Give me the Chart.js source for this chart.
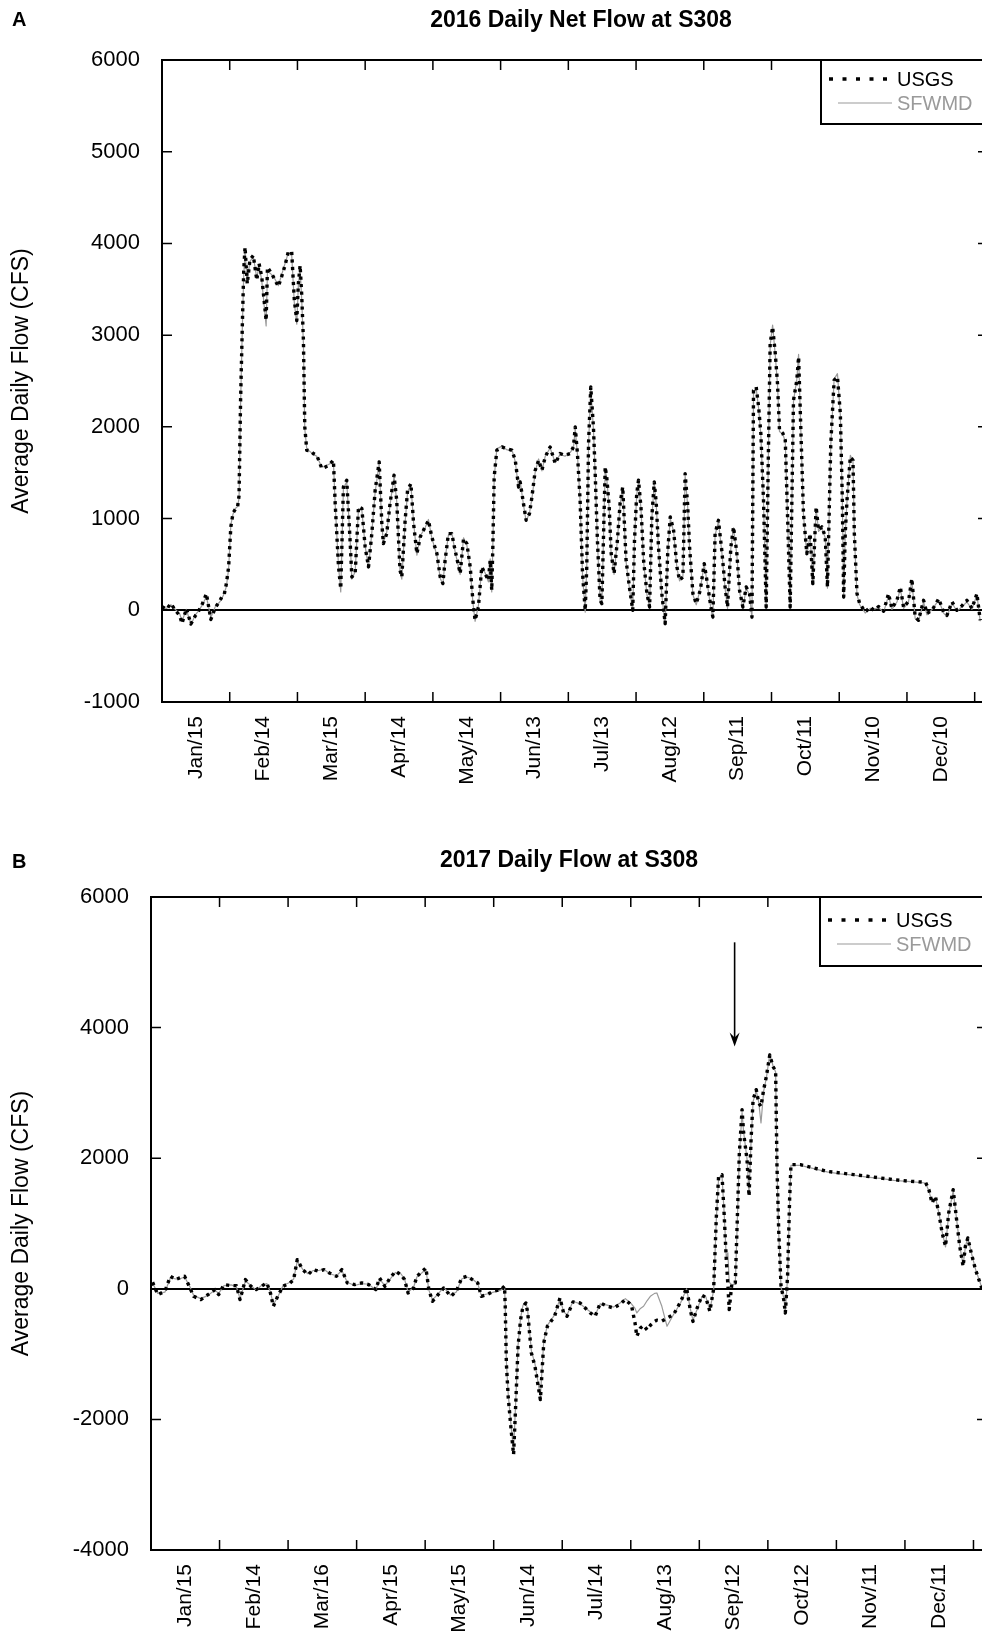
<!DOCTYPE html>
<html>
<head>
<meta charset="utf-8">
<script src="https://cdn.jsdelivr.net/npm/chart.js@4.4.0/dist/chart.umd.min.js"></script>
<style>
  html, body { margin: 0; padding: 0; background: #fff; width: 982px; height: 1642px; overflow: hidden; }
  canvas { position: absolute; left: 0; }
  .tag { position: absolute; z-index: 2; font: bold 20px "Liberation Sans", Arial, sans-serif; line-height: 20px; }
  .title { position: absolute; z-index: 2; font: bold 23px "Liberation Sans", Arial, sans-serif; line-height: 23px;
           transform: translateX(-50%); white-space: nowrap; }
</style>
</head>
<body>
<canvas id="chartA" style="top:0" width="1000" height="820"></canvas>
<canvas id="chartB" style="top:820px" width="1000" height="822"></canvas>
<div class="tag" style="left:12px;top:9px">A</div>
<div class="title" style="left:581px;top:8px">2016 Daily Net Flow at S308</div>
<div class="tag" style="left:12px;top:851px">B</div>
<div class="title" style="left:569px;top:848px">2017 Daily Flow at S308</div>
<script>
// month tick labels
const monthsA = ['Jan/15', 'Feb/14', 'Mar/15', 'Apr/14', 'May/14', 'Jun/13', 'Jul/13', 'Aug/12', 'Sep/11', 'Oct/11', 'Nov/10', 'Dec/10'];
const monthsB = ['Jan/15', 'Feb/14', 'Mar/16', 'Apr/15', 'May/15', 'Jun/14', 'Jul/14', 'Aug/13', 'Sep/12', 'Oct/12', 'Nov/11', 'Dec/11'];

// 2016, day of year
const daysA = [
  0, 2, 4, 6, 8, 9, 11, 13, 15, 16,
  18, 20, 22, 24, 26, 27, 28, 29, 30, 31,
  32, 33, 34, 34.7, 35.4, 36.2, 36.8, 37.4, 38.4, 39.6,
  41.1, 42.7, 43.7, 44.9, 46.9, 47.5, 49.4, 50.9, 52.4, 53.9,
  55.4, 56.9, 58.4, 59.6, 60.7, 61.4, 62.2, 62.9, 63.7, 64.3,
  65.2, 66.7, 68.2, 69.7, 72, 73.4, 75, 77.2, 78, 79.5,
  80.5, 81.7, 83.2, 84.7, 85.5, 87, 88.5, 90, 91.5, 93,
  94.5, 96, 97.8, 99, 99.7, 101.2, 102.7, 104.5, 105.7, 107.2,
  108, 109.5, 110.6, 112.1, 113.3, 114.8, 116.3, 118.5, 120, 121.5,
  123.8, 125.3, 126.5, 127.5, 129, 130.5, 132, 134.3, 135.8, 137.3,
  138.8, 140, 141, 142.5, 144, 145.5, 147, 147.8, 148.5, 149,
  149.6, 150.8, 153.1, 155.3, 157.6, 159.1, 160.6, 161.3, 162.8, 164,
  165.5, 166.6, 168.1, 169.6, 171.1, 172.6, 174.8, 177.1, 179.3, 181.5,
  183.8, 185.3, 186.1, 187.1, 188.3, 189.4, 190.6, 191.3, 192.1, 193.1,
  194.3, 195.1, 196.1, 197.3, 198.1, 199.6, 200.3, 201.4, 202.3, 203.6,
  205.1, 206.3, 207.5, 209, 210.5, 212, 212.8, 213.8, 214.6, 215.7,
  216.9, 218.4, 219.6, 220.6, 221.7, 222.6, 223.6, 225.1, 226.6, 227.8,
  228.9, 230.4, 231.9, 233.1, 234.6, 235.6, 236.7, 237.6, 239.1, 240.6,
  242.4, 244.2, 245.4, 247.2, 248.1, 249.1, 250.6, 252.1, 253.6, 254.7,
  256.2, 257.4, 258.9, 260.1, 261.6, 263.1, 264.6, 265.7, 266.4, 267.6,
  268.7, 269.7, 270.9, 272.1, 273, 273.9, 275, 276.2, 277.2, 278.1,
  279.6, 280.7, 281.7, 282.9, 284.4, 285.9, 286.7, 287.4, 288.9, 290.4,
  291.9, 293.1, 294.6, 295.7, 297.2, 298.7, 299.7, 301.2, 302.7, 304.2,
  305.5, 306.4, 307, 307.7, 308.5, 310, 311.2, 311.8, 313, 314.2,
  316.7, 319, 320.5, 322.7, 325, 327.2, 328.7, 331, 332.5, 334,
  336.2, 337.7, 339.2, 340.7, 343, 344.5, 346.8, 349.8, 352, 353.5,
  355.8, 358, 360.3, 362.5, 364.8, 367, 368.5
];
const usgsA = [
  40, 10, 73, 0, -60, -145, 20, -150, -60, -30,
  60, 182, -100, 30, 100, 150, 170, 290, 470, 910,
  1060, 1100, 1120, 1250, 2300, 3130, 3700, 3960, 3560, 3820,
  3870, 3600, 3780, 3640, 3160, 3740, 3670, 3600, 3530, 3640,
  3760, 3910, 3910, 3380, 3160, 3560, 3760, 3450, 2940, 2000,
  1745, 1740, 1708, 1690, 1545, 1560, 1581, 1636, 1163, 473,
  236, 1345, 1418, 763, 363, 400, 1127, 1109, 690, 473,
  836, 1309, 1618, 945, 727, 836, 1163, 1472, 1200, 436,
  363, 981, 1309, 1381, 945, 618, 800, 909, 981, 800,
  618, 363, 291, 545, 836, 836, 654, 400, 781, 727,
  473, 109, -109, 36, 473, 400, 327, 545, 218, 690,
  1454, 1745, 1781, 1760, 1745, 1636, 1345, 1400, 1163, 981,
  1054, 1236, 1527, 1636, 1527, 1672, 1781, 1600, 1709, 1690,
  1709, 1781, 2000, 1709, 1200, 400, 0, 473, 1818, 2435,
  2000, 1490, 763, 109, 73, 1563, 1450, 1127, 618, 400,
  763, 1163, 1345, 545, 254, 0, 763, 1272, 1418, 1127,
  545, 182, 36, 1018, 1400, 1163, 690, 182, -145, 654,
  1018, 872, 473, 327, 363, 1490, 1163, 690, 182, 73,
  218, 509, 327, 36, -73, 836, 981, 654, 254, 36,
  690, 909, 618, 218, 36, 254, 182, -73, 2399, 2435,
  2217, 1927, 1200, 36, 1563, 2908, 3090, 2799, 2472, 1963,
  1930, 1854, 1054, 36, 2290, 2508, 2763, 2217, 1054, 618,
  836, 291, 1127, 872, 909, 800, 254, 1818, 2508, 2545,
  2145, 1200, 145, 836, 1200, 1672, 1636, 836, 182, 73,
  -18, 36, 0, 40, -10, 182, 20, 109, 254, 30,
  100, 345, -73, -109, 109, -36, 0, 127, -20, -55,
  91, 0, 50, 109, 20, 182, -109
];
const sfwmdA = [
  30, 20, 60, 10, -40, -120, 10, -160, -50, -20,
  50, 150, -80, 40, 90, 130, 180, 260, 450, 930,
  1050, 1110, 1130, 1220, 2250, 3100, 3650, 3900, 3600, 3800,
  3860, 3620, 3760, 3600, 3100, 3700, 3660, 3610, 3540, 3660,
  3780, 3900, 3880, 3350, 3120, 3540, 3730, 3400, 2900, 1980,
  1760, 1730, 1700, 1680, 1560, 1570, 1590, 1620, 1150, 480,
  200, 1330, 1400, 780, 340, 420, 1110, 1090, 700, 460,
  850, 1290, 1600, 930, 740, 850, 1150, 1460, 1190, 420,
  340, 960, 1290, 1370, 960, 600, 810, 900, 990, 790,
  600, 350, 280, 560, 820, 850, 640, 390, 790, 710,
  460, 90, -120, 50, 460, 410, 310, 560, 200, 700,
  1440, 1760, 1790, 1750, 1750, 1620, 1330, 1410, 1150, 970,
  1060, 1220, 1510, 1650, 1520, 1680, 1770, 1610, 1700, 1680,
  1720, 1770, 1980, 1700, 1190, 380, -20, 480, 1800, 2420,
  1980, 1480, 750, 100, 60, 1540, 1440, 1110, 600, 390,
  770, 1150, 1330, 530, 240, -10, 770, 1260, 1400, 1110,
  530, 170, 20, 1000, 1390, 1150, 680, 170, -160, 640,
  1000, 860, 460, 320, 370, 1470, 1150, 680, 170, 60,
  230, 500, 320, 20, -90, 820, 970, 640, 240, 20,
  680, 900, 600, 200, 20, 240, 170, -90, 2380, 2420,
  2200, 1910, 1180, 20, 1540, 2890, 3110, 2780, 2460, 1950,
  1920, 1840, 1040, 20, 2280, 2520, 2790, 2200, 1040, 600,
  820, 280, 1110, 860, 900, 790, 240, 1800, 2520, 2580,
  2130, 1180, 130, 820, 1190, 1690, 1620, 820, 170, 60,
  -30, 20, 10, 30, -20, 160, 10, 90, 240, 20,
  90, 330, -90, -120, 90, -50, 10, 110, -30, -70,
  80, -10, 40, 90, 10, 170, -120
];

// 2017, day of year
const daysB = [
  0.7, 3, 6.2, 8.6, 11, 12.6, 14.9, 17.3, 18.9, 22.1,
  25.3, 28.4, 30, 32.4, 35.6, 37.9, 39.5, 41.9, 44.3, 46.7,
  49, 51.4, 53, 54.3, 56.2, 58.6, 61.7, 63.3, 64.9, 67.3,
  69.7, 72, 74.4, 76.8, 79.2, 82.3, 84.7, 87.1, 90.3, 93.5,
  96.6, 99.8, 101.4, 103.8, 106.1, 108.5, 110.9, 112.5, 114.1, 116.5,
  118, 120.4, 122, 123.3, 124.9, 126.8, 129.9, 133.1, 135.5, 137.9,
  140.2, 142.6, 145, 146.6, 149, 152.1, 155.3, 156.9, 157.2, 157.7,
  158.5, 159.8, 160.9, 161.7, 162.9, 164, 165.1, 166.4, 167.2, 168.8,
  170.4, 172.8, 173.5, 174.3, 175.9, 179.1, 181.5, 183.1, 184.6, 187.3,
  190.4, 194.9, 197.1, 199.4, 202.5, 205.3, 208, 210.5, 213.2, 214.8,
  215.6, 217.2, 218.6, 220.2, 221.6, 223.5, 224.5, 226.7, 229, 231.9,
  235, 237.7, 239.3, 240.5, 242.3, 244.5, 246.2, 248, 249.7, 250.9,
  251.9, 253.4, 254.4, 255.3, 256, 256.6, 257.8, 259.3, 260, 261.1,
  262.3, 263, 264.5, 265.4, 266.3, 267.2, 268.6, 269.7, 270.7, 271.9,
  273.1, 274.6, 276, 277.2, 277.8, 278.6, 279.6, 280.8, 281.5, 282.5,
  283.4, 284, 288.2, 294.1, 300, 305.9, 311.9, 317.8, 323.7, 329.6,
  337, 343.7, 345.2, 346.6, 348.1, 349.6, 351.1, 352.6, 354, 356,
  357.5, 358.9, 360.4, 361.4, 362.5, 364, 365.9, 367.4, 368.8
];
const usgsB = [
  100, -89, -38, 192, 141, 166, 192, 13, -115, -166,
  -89, -12, -89, 64, 49, 49, -166, 141, 39, -12,
  39, 90, -64, -268, -115, 39, 90, 141, 447, 294,
  217, 294, 268, 294, 243, 192, 294, 90, 64, 90,
  64, -12, 166, 39, 166, 268, 217, 141, -64, 13,
  192, 268, 319, -12, -191, -115, 13, -115, -38, 166,
  192, 141, 90, -115, -89, -38, -12, 39, -268, -1136,
  -1646, -2156, -2539, -1901, -880, -472, -268, -217, -370, -983,
  -1187, -1697, -1289, -829, -574, -421, -140, -370, -421, -200,
  -217, -370, -421, -217, -268, -294, -240, -166, -250, -523,
  -727, -600, -560, -630, -560, -500, -480, -495, -450, -395,
  -200, 13, -319, -500, -300, -100, -130, -345, 0, 1110,
  1723, 1748, 1110, 447, 64, -319, 90, 90, 855, 2080,
  2743, 2386, 1978, 1416, 2284, 2897, 3050, 2845, 2794, 3050,
  3254, 3580, 3407, 3331, 1876, 855, 39, -165, -370, 192,
  1365, 1901, 1901, 1850, 1799, 1774, 1748, 1723, 1697, 1672,
  1646, 1631, 1519, 1314, 1416, 1161, 855, 651, 1161, 1519,
  1059, 651, 345, 651, 778, 549, 294, 141, 0
];
const sfwmdB = [
  90, -70, -50, 170, 150, 150, 180, 30, -100, -150,
  -100, -20, -70, 50, 60, 30, -150, 120, 50, -20,
  50, 80, -50, -240, -130, 50, 100, 150, 420, 300,
  230, 280, 280, 300, 230, 200, 280, 100, 50, 80,
  70, -20, 150, 50, 150, 250, 230, 150, -50, 20,
  180, 250, 300, -20, -170, -100, 20, -100, -50, 150,
  180, 150, 80, -100, -80, -50, -20, 30, -250, -1100,
  -1600, -2100, -2480, -1850, -860, -450, -250, -200, -350, -950,
  -1150, -1650, -1250, -800, -560, -400, -150, -350, -400, -190,
  -230, -350, -400, -230, -250, -280, -220, -150, -230, -300,
  -370, -300, -268, -180, -115, -70, -64, -268, -574, -393,
  -217, 0, -300, -480, -320, -120, -120, -330, -20, 1080,
  1700, 1730, 1130, 480, 550, 100, 60, 80, 820, 2050,
  2700, 2400, 1990, 1450, 2260, 2870, 3030, 2860, 2539, 3030,
  3230, 3600, 3420, 3320, 1850, 830, 20, -140, -340, 170,
  1340, 1890, 1890, 1840, 1790, 1760, 1740, 1710, 1690, 1660,
  1640, 1620, 1500, 1330, 1400, 1170, 870, 640, 1150, 1500,
  1070, 660, 360, 640, 790, 560, 300, 150, 10
];

// arrow marking Sep 10 in panel B: day, top value, tip value
const arrowB = [259, 5306, 3711];

Chart.defaults.font.family = '"Liberation Sans", Arial, sans-serif';
Chart.defaults.color = '#000';

const framePlugin = {
  id: 'frame',
  afterDatasetsDraw(chart, args, opts) {
    const ctx = chart.ctx;
    const a = chart.chartArea;
    const x = chart.scales.x, y = chart.scales.y;
    ctx.save();
    ctx.strokeStyle = '#000';
    ctx.lineWidth = 1.5;
    ctx.beginPath();
    for (let k = 1; k * opts.month < x.max; k++) {
      const px = x.getPixelForValue(k * opts.month);
      ctx.moveTo(px, a.bottom); ctx.lineTo(px, a.bottom - 10);
      ctx.moveTo(px, a.top); ctx.lineTo(px, a.top + 10);
    }
    y.ticks.forEach((t) => {
      const py = y.getPixelForValue(t.value);
      ctx.moveTo(a.left, py); ctx.lineTo(a.left + 10, py);
      ctx.moveTo(a.right, py); ctx.lineTo(a.right - 10, py);
    });
    ctx.stroke();
    ctx.lineWidth = 2;
    ctx.strokeRect(a.left, a.top, a.right - a.left, a.bottom - a.top);

    // legend box
    const lx = opts.legendLeft, ly = a.top, lh = opts.legendHeight;
    ctx.fillStyle = '#fff';
    ctx.fillRect(lx, ly, chart.width - lx + 5, lh);
    ctx.strokeRect(lx, ly, chart.width - lx + 5, lh);
    const ds = chart.data.datasets;
    ctx.font = '20px "Liberation Sans", Arial, sans-serif';
    ctx.textBaseline = 'middle';
    ds.forEach((d, i) => {
      const ry = ly + opts.rowY[i];
      ctx.beginPath();
      ctx.strokeStyle = d.borderColor;
      ctx.lineWidth = d.borderWidth;
      ctx.setLineDash(i === 0 ? [4, 9.5] : []);
      ctx.moveTo(lx + (i === 0 ? 8 : 17), ry);
      ctx.lineTo(lx + 71, ry);
      ctx.stroke();
      ctx.setLineDash([]);
      ctx.fillStyle = i === 0 ? '#000' : '#9a9a9a';
      ctx.fillText(d.label, lx + 76, ry + 1);
    });

    if (opts.arrow) {
      const ax = x.getPixelForValue(opts.arrow[0]);
      const ay0 = y.getPixelForValue(opts.arrow[1]);
      const ay1 = y.getPixelForValue(opts.arrow[2]);
      ctx.strokeStyle = '#000';
      ctx.fillStyle = '#000';
      ctx.lineWidth = 1.6;
      ctx.beginPath();
      ctx.moveTo(ax, ay0); ctx.lineTo(ax, ay1 - 6);
      ctx.stroke();
      ctx.beginPath();
      ctx.moveTo(ax - 5, ay1 - 14);
      ctx.lineTo(ax, ay1 - 9);
      ctx.lineTo(ax + 5, ay1 - 14);
      ctx.lineTo(ax, ay1);
      ctx.closePath();
      ctx.fill();
    }
    ctx.restore();
  }
};

function makeChart(id, p) {
  const toPts = (vals) => p.days.map((d, i) => ({ x: d, y: vals[i] }));
  return new Chart(document.getElementById(id), {
    type: 'line',
    data: {
      datasets: [
        { label: 'USGS', data: toPts(p.usgs), borderColor: '#000', borderWidth: 3.4,
          borderDash: [3.2, 4.3], borderCapStyle: 'butt', borderJoinStyle: 'round',
          pointRadius: 0, tension: 0, order: 0 },
        { label: 'SFWMD', data: toPts(p.sfwmd), borderColor: '#9a9a9a', borderWidth: 1.2,
          borderJoinStyle: 'round', pointRadius: 0, tension: 0, order: 1 }
      ]
    },
    options: {
      responsive: false,
      animation: false,
      layout: { padding: { top: p.padTop, right: p.padRight, left: 0, bottom: 0 } },
      plugins: {
        legend: { display: false },
        tooltip: { enabled: false },
        frame: { month: p.month, legendLeft: p.legendLeft, legendHeight: p.legendHeight,
                 rowY: p.rowY, arrow: p.arrow }
      },
      scales: {
        x: {
          type: 'linear', min: 0, max: p.xMax,
          afterBuildTicks: (s) => { s.ticks = p.months.map((m, i) => ({ value: (i + 0.5) * p.month })); },
          afterFit: (s) => { s.height = p.xHeight; },
          ticks: { autoSkip: false, minRotation: 90, maxRotation: 90, padding: 14,
                   font: { size: 21 }, callback: (v, i) => p.months[i] },
          grid: { display: false, drawTicks: false },
          border: { display: false }
        },
        y: {
          min: p.yMin, max: p.yMax,
          afterFit: (s) => { s.width = p.left; },
          ticks: { stepSize: p.yStep, padding: 22, font: { size: 22 }, callback: (v) => String(v) },
          grid: { drawTicks: false, lineWidth: 2,
                  color: (c) => (c.tick && c.tick.value === 0 ? '#000' : 'rgba(0,0,0,0)') },
          border: { display: false },
          title: { display: true, text: 'Average Daily Flow (CFS)', font: { size: 23 },
                   padding: { top: 8, bottom: 0 } }
        }
      }
    },
    plugins: [framePlugin]
  });
}

makeChart('chartA', {
  days: daysA, usgs: usgsA, sfwmd: sfwmdA, months: monthsA,
  month: 366 / 12, xMax: 372, yMin: -1000, yMax: 6000, yStep: 1000,
  left: 162, padTop: 60, padRight: 12, xHeight: 118,
  legendLeft: 821, legendHeight: 64, rowY: [19, 43]
});

makeChart('chartB', {
  days: daysB, usgs: usgsB, sfwmd: sfwmdB, months: monthsB,
  month: 365 / 12, xMax: 371, yMin: -4000, yMax: 6000, yStep: 2000,
  left: 151, padTop: 77, padRight: 13, xHeight: 92,
  legendLeft: 820, legendHeight: 69, rowY: [23, 47], arrow: arrowB
});
</script>
</body>
</html>
